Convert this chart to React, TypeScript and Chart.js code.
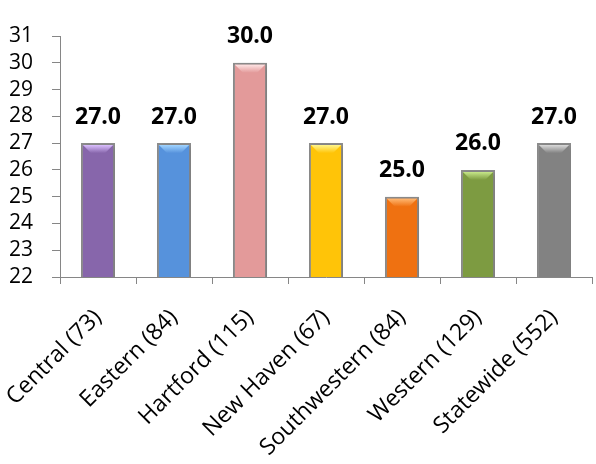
import React, { useEffect, useRef } from "react";
import { Chart, registerables } from "chart.js";

Chart.register(...registerables);

const categories = [
  "Central (73)",
  "Eastern (84)",
  "Hartford (115)",
  "New Haven (67)",
  "Southwestern (84)",
  "Western (129)",
  "Statewide (552)",
];
const values = [27.0, 27.0, 30.0, 27.0, 25.0, 26.0, 27.0];
const barColors = ["#8766ab", "#5692dc", "#e39a9a", "#ffc408", "#ef7111", "#7d9b41", "#828282"];
const bevelTopColors = ["#d9bdfd", "#9fd3ff", "#fde3e3", "#fff58a", "#ffb872", "#c7e88a", "#d8d8d8"];
const bevelBottomColors = ["#75579a", "#4a82c9", "#cf8787", "#eeb000", "#d9600a", "#6c8a34", "#717171"];
const yMin = 22;
const yMax = 31;

const FONT = "'Open Sans', Lato, sans-serif";

// Bevel highlight, soft shadow and value labels drawn on top of the bars
const bevelPlugin = {
  id: "bevelBars",
  beforeDatasetsDraw(chart: any) {
    const ctx = chart.ctx;
    ctx.save();
    ctx.shadowColor = "rgba(0,0,0,0.28)";
    ctx.shadowBlur = 5;
    ctx.shadowOffsetX = 1;
    ctx.shadowOffsetY = 1;
  },
  afterDatasetsDraw(chart: any) {
    const ctx = chart.ctx;
    ctx.restore();
    const meta = chart.getDatasetMeta(0);
    meta.data.forEach((bar: any, i: number) => {
      const { x, y, base, width } = bar.getProps(["x", "y", "base", "width"], true);
      const bw = 2;
      const l = x - width / 2 + bw;
      const r = x + width / 2 - bw;
      const t = y + bw;
      const b = base - bw;
      const d = 8;
      ctx.save();
      // top facet
      const gTop = ctx.createLinearGradient(0, t, 0, t + d);
      gTop.addColorStop(0, bevelTopColors[i]);
      gTop.addColorStop(1, barColors[i]);
      ctx.fillStyle = gTop;
      ctx.beginPath();
      ctx.moveTo(l, t);
      ctx.lineTo(r, t);
      ctx.lineTo(r - d, t + d);
      ctx.lineTo(l + d, t + d);
      ctx.closePath();
      ctx.fill();
      // bottom facet
      const gBot = ctx.createLinearGradient(0, b - d, 0, b);
      gBot.addColorStop(0, barColors[i]);
      gBot.addColorStop(1, bevelBottomColors[i]);
      ctx.fillStyle = gBot;
      ctx.beginPath();
      ctx.moveTo(l, b);
      ctx.lineTo(r, b);
      ctx.lineTo(r - d, b - d);
      ctx.lineTo(l + d, b - d);
      ctx.closePath();
      ctx.fill();
      ctx.restore();

      // value label
      ctx.save();
      ctx.font = `bold 23px ${FONT}`;
      ctx.fillStyle = "#000000";
      ctx.textAlign = "center";
      ctx.textBaseline = "middle";
      ctx.fillText(values[i].toFixed(1), x, y - 26);
      ctx.restore();
    });
  },
};

export default function App() {
  const canvasRef = useRef<HTMLCanvasElement | null>(null);

  useEffect(() => {
    if (!canvasRef.current) return;
    const chart = new Chart(canvasRef.current, {
      type: "bar",
      data: {
        labels: categories,
        datasets: [
          {
            data: values,
            backgroundColor: barColors,
            borderColor: "#8e8e8e",
            borderWidth: 2,
            borderSkipped: false,
            barPercentage: 0.45,
            categoryPercentage: 1,
          },
        ],
      },
      options: {
        responsive: false,
        animation: false,
        layout: { padding: { left: 0, right: 4, top: 36, bottom: 0 } },
        plugins: {
          legend: { display: false },
          tooltip: { enabled: false },
        },
        scales: {
          x: {
            grid: {
              display: true,
              offset: true,
              drawOnChartArea: false,
              drawTicks: true,
              tickLength: 7,
              tickColor: "#868686",
              color: "#868686",
            },
            border: { display: true, color: "#868686", width: 1 },
            ticks: {
              autoSkip: false,
              maxRotation: 45,
              minRotation: 45,
              padding: 20,
              color: "#000000",
              font: { family: FONT, size: 23 },
            },
            afterFit: (scale: any) => {
              scale.height = 187;
              scale.paddingLeft = 0;
              scale.paddingRight = 0;
            },
          },
          y: {
            min: yMin,
            max: yMax,
            ticks: {
              autoSkip: false,
              stepSize: 1,
              padding: 19,
              color: "#000000",
              font: { family: FONT, size: 21 },
            },
            grid: {
              display: true,
              drawOnChartArea: false,
              drawTicks: true,
              tickLength: 8,
              tickColor: "#868686",
              color: "#868686",
            },
            border: { display: true, color: "#868686", width: 1 },
            afterFit: (scale: any) => {
              scale.width = 60;
            },
          },
        },
      },
      plugins: [bevelPlugin],
    });
    return () => chart.destroy();
  }, []);

  return (
    <div style={{ position: "absolute", left: 0, top: 0, width: 596, height: 464, background: "#ffffff" }}>
      <canvas ref={canvasRef} width={596} height={464} />
    </div>
  );
}
